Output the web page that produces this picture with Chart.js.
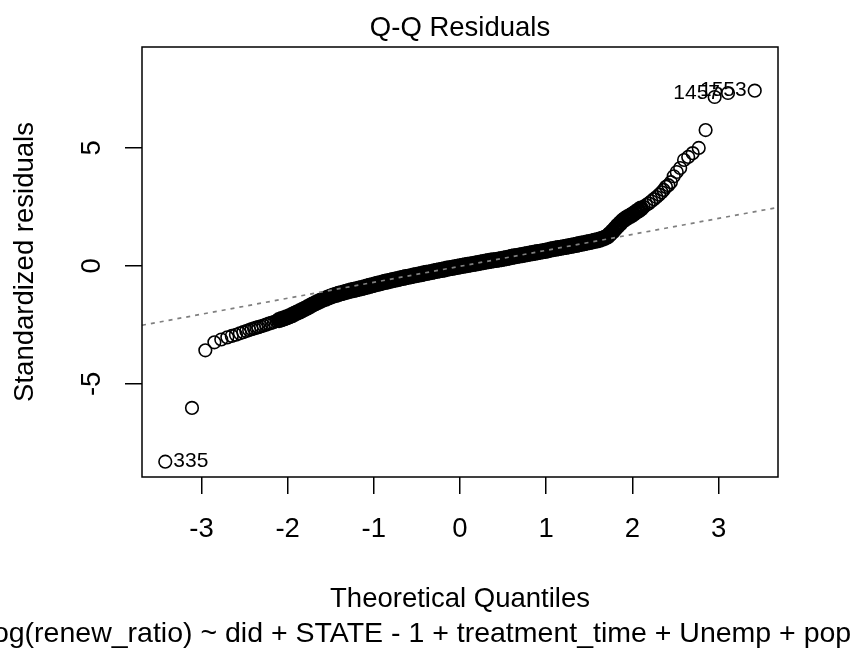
<!DOCTYPE html>
<html>
<head>
<meta charset="utf-8">
<script src="https://cdn.jsdelivr.net/npm/chart.js@4.4.1/dist/chart.umd.min.js"></script>
<style>
body{margin:0;background:#fff;}
#wrap{width:854px;height:652px;}
</style>
</head>
<body>
<div id="wrap"><canvas id="qq" width="854" height="652"></canvas></div>
<script>
// theoretical quantiles / standardized residuals
let lowQ=[-3.42,-3.11,-2.955,-2.85,-2.77,-2.70,-2.648,-2.60,-2.555,-2.515,-2.48,-2.447,-2.418,-2.39,-2.363];
let lowR=[-8.30,-6.02,-3.58,-3.24,-3.12,-3.03,-2.97,-2.92,-2.86,-2.81,-2.76,-2.72,-2.68,-2.65,-2.62];

let bodyQ=[
-2.34,-2.31,-2.28,-2.25,-2.22,-2.19,-2.16,-2.13,-2.10,-2.07,
-2.04,-2.01,-1.98,-1.95,-1.92,-1.89,-1.86,-1.83,-1.80,-1.77,
-1.74,-1.71,-1.68,-1.65,-1.62,-1.59,-1.56,-1.53,-1.50,-1.47,
-1.44,-1.41,-1.38,-1.35,-1.32,-1.29,-1.26,-1.23,-1.20,-1.17,
-1.14,-1.11,-1.08,-1.05,-1.02,-0.99,-0.96,-0.93,-0.90,-0.87,
-0.84,-0.81,-0.78,-0.75,-0.72,-0.69,-0.66,-0.63,-0.60,-0.57,
-0.54,-0.51,-0.48,-0.45,-0.42,-0.39,-0.36,-0.33,-0.30,-0.27,
-0.24,-0.21,-0.18,-0.15,-0.12,-0.09,-0.06,-0.03,0.00,0.03,
0.06,0.09,0.12,0.15,0.18,0.21,0.24,0.27,0.30,0.33,
0.36,0.39,0.42,0.45,0.48,0.51,0.54,0.57,0.60,0.63,
0.66,0.69,0.72,0.75,0.78,0.81,0.84,0.87,0.90,0.93,
0.96,0.99,1.02,1.05,1.08,1.11,1.14,1.17,1.20,1.23,
1.26,1.29,1.32,1.35,1.38,1.41,1.44,1.47,1.50,1.53,
1.56,1.59,1.62,1.65,1.68,1.71,1.74,1.77,1.80,1.83,
1.86,1.89,1.92,1.95,1.98,2.01,2.04,2.07,2.10,2.13,
2.16,2.19,2.22,2.25,2.28,2.31,2.34];
let bodyR=[
-2.60,-2.56,-2.53,-2.49,-2.45,-2.42,-2.38,-2.34,-2.30,-2.26,
-2.22,-2.18,-2.14,-2.09,-2.03,-1.98,-1.93,-1.87,-1.82,-1.76,
-1.70,-1.64,-1.59,-1.53,-1.48,-1.43,-1.39,-1.34,-1.30,-1.26,
-1.23,-1.19,-1.16,-1.13,-1.10,-1.07,-1.04,-1.02,-0.99,-0.96,
-0.94,-0.91,-0.88,-0.85,-0.82,-0.79,-0.76,-0.74,-0.71,-0.68,
-0.66,-0.63,-0.60,-0.58,-0.56,-0.53,-0.51,-0.48,-0.46,-0.44,
-0.41,-0.39,-0.37,-0.35,-0.32,-0.30,-0.28,-0.26,-0.23,-0.21,
-0.19,-0.17,-0.15,-0.12,-0.10,-0.08,-0.06,-0.04,-0.02,0.00,
0.02,0.04,0.06,0.08,0.10,0.12,0.14,0.16,0.18,0.20,
0.22,0.24,0.25,0.27,0.29,0.31,0.33,0.35,0.38,0.40,
0.42,0.44,0.46,0.48,0.50,0.52,0.54,0.56,0.58,0.60,
0.62,0.64,0.66,0.69,0.71,0.73,0.75,0.77,0.79,0.81,
0.83,0.85,0.87,0.89,0.92,0.94,0.96,0.99,1.01,1.03,
1.06,1.08,1.11,1.15,1.19,1.25,1.35,1.46,1.58,1.70,
1.81,1.92,2.00,2.07,2.13,2.20,2.28,2.35,2.43,2.50,
2.58,2.65,2.74,2.83,2.92,3.02,3.12];

let highQ=[2.363,2.39,2.418,2.447,2.48,2.515,2.555,2.60,2.648,2.70,2.77,2.85,2.955,3.11,3.42];
let highR=[3.22,3.35,3.42,3.55,3.80,3.98,4.15,4.49,4.62,4.78,5.00,5.76,7.16,7.33,7.43];

// labelled observations
let idLabels=["335","1457","1553"];
let idQ=[-3.42,3.11,3.42];

// qqline
let lineIntercept=-0.018;
let lineSlope=0.677;

let xLimits=[-3.69,3.69];
let yLimits=[-8.95,9.28];
let xTicks=[-3,-2,-1,0,1,2,3];
let yTicks=[-5,0,5];

let mainTitle="Q-Q Residuals";
let xTitle="Theoretical Quantiles";
let yTitle="Standardized residuals";
let subTitle="lm(log(renew_ratio) ~ did + STATE - 1 + treatment_time + Unemp + pop";

let allQ=lowQ.concat(bodyQ,highQ);
let allR=lowR.concat(bodyR,highR);
let points=allQ.map((q,i)=>({x:q,y:allR[i]}));
let qqLine=xLimits.map(v=>({x:v,y:lineIntercept+lineSlope*v}));

let font="'Liberation Sans', Arial, Helvetica, sans-serif";

let textPlugin={
id:"rtext",
afterDraw(chart){
let ctx=chart.ctx;
let a=chart.chartArea;
let ys=chart.scales.y;
ctx.save();
ctx.strokeStyle="#000";
ctx.lineWidth=1.5;
ctx.strokeRect(a.left,a.top,a.right-a.left,a.bottom-a.top);

ctx.fillStyle="#000";
ctx.font="27.5px "+font;
ctx.textAlign="center";
ctx.textBaseline="alphabetic";
let cx=(a.left+a.right)/2;
ctx.fillText(mainTitle,cx,36);
ctx.fillText(xTitle,cx,607);
ctx.font="28.5px "+font;
ctx.textAlign="left";
ctx.fillText(subTitle,-53,642);

ctx.font="27.5px "+font;
ctx.textAlign="center";
yTicks.forEach(v=>{
ctx.save();
ctx.translate(100,ys.getPixelForValue(v));
ctx.rotate(-Math.PI/2);
ctx.fillText(String(v),0,0);
ctx.restore();
});
ctx.save();
ctx.translate(33,(a.top+a.bottom)/2);
ctx.rotate(-Math.PI/2);
ctx.fillText(yTitle,0,0);
ctx.restore();

// point ids
ctx.font="21px "+font;
ctx.textBaseline="middle";
let meta=chart.getDatasetMeta(1);
idLabels.forEach((lab,k)=>{
let el=meta.data[allQ.indexOf(idQ[k])];
if(idQ[k]<0){
ctx.textAlign="left";
ctx.fillText(lab,el.x+8,el.y);
}else{
ctx.textAlign="right";
ctx.fillText(lab,el.x-8,el.y);
}
});
ctx.restore();
}
};

new Chart(document.getElementById("qq"),{
type:"scatter",
data:{
datasets:[{
type:"line",
data:qqLine,
borderColor:"#7f7f7f",
borderWidth:1.7,
borderDash:[4,5],
pointRadius:0,
fill:false
},{
data:points,
pointStyle:"circle",
pointRadius:6.3,
pointHoverRadius:6.3,
// the dense middle of the sample prints as a solid band
pointBorderWidth:c=>(c.raw && Math.abs(c.raw.x)<=2.1 ? 3.6 : 1.6),
borderColor:"#000",
backgroundColor:"rgba(0,0,0,0)"
}]
},
options:{
responsive:false,
animation:false,
layout:{padding:{top:47,right:76,left:0,bottom:0}},
plugins:{legend:{display:false},tooltip:{enabled:false}},
scales:{
x:{
type:"linear",
min:xLimits[0],
max:xLimits[1],
afterBuildTicks:s=>{s.ticks=xTicks.map(v=>({value:v}));},
afterFit:s=>{s.height=175;},
border:{display:false},
grid:{drawOnChartArea:false,drawTicks:true,tickLength:17,color:"#000",lineWidth:1.5},
ticks:{color:"#000",padding:19,maxRotation:0,minRotation:0,autoSkip:false,font:{family:font,size:27.5}}
},
y:{
type:"linear",
min:yLimits[0],
max:yLimits[1],
afterBuildTicks:s=>{s.ticks=yTicks.map(v=>({value:v}));},
afterFit:s=>{s.width=142;},
border:{display:false},
grid:{drawOnChartArea:false,drawTicks:true,tickLength:17,color:"#000",lineWidth:1.5},
ticks:{display:false}
}
}
},
plugins:[textPlugin]
});
</script>
</body>
</html>
